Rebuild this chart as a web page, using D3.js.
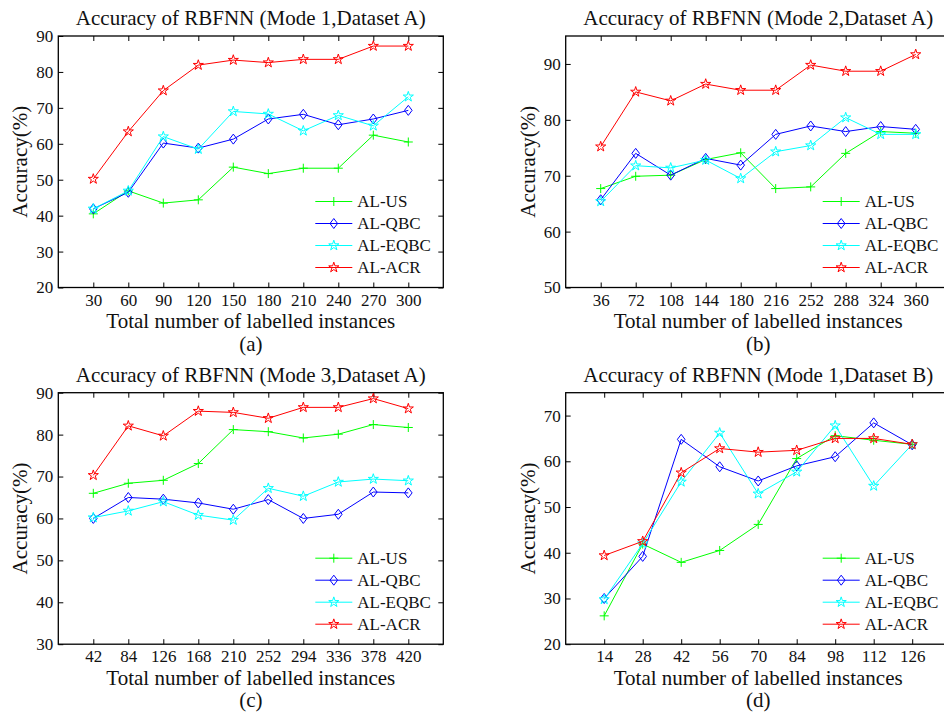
<!DOCTYPE html>
<html>
<head>
  <meta charset="utf-8">
  <title>Accuracy of RBFNN</title>
  <style>
    body { margin: 0; background: #fff; }
    svg text { font-family: 'Liberation Serif', 'DejaVu Serif', serif; }
  </style>
</head>
<body>
  <div id="plot"></div>

  <script src="https://cdn.jsdelivr.net/npm/d3@7"></script>
  <script>

    // legend names
    let seriesNames = ['AL-US', 'AL-QBC', 'AL-EQBC', 'AL-ACR'];

    // (a) Mode 1, Dataset A
    let xA = [30, 60, 90, 120, 150, 180, 210, 240, 270, 300];
    let usA = [40.5, 46.9, 43.5, 44.4, 53.5, 51.7, 53.2, 53.2, 62.4, 60.5];
    let qbcA = [41.9, 46.5, 60.2, 58.8, 61.3, 66.9, 68.2, 65.3, 66.9, 69.3];
    let eqbcA = [41.9, 46.9, 62.0, 58.5, 69.0, 68.3, 63.6, 67.9, 65.0, 73.1];
    let acrA = [50.2, 63.4, 74.8, 81.9, 83.3, 82.6, 83.5, 83.5, 87.2, 87.2];

    // (b) Mode 2, Dataset A
    let xB = [36, 72, 108, 144, 180, 216, 252, 288, 324, 360];
    let usB = [67.7, 69.9, 70.1, 72.9, 74.1, 67.7, 68.0, 74.0, 77.9, 77.6];
    let qbcB = [65.7, 74.0, 70.1, 73.1, 71.9, 77.4, 78.9, 77.9, 78.8, 78.3];
    let eqbcB = [65.4, 71.8, 71.4, 72.8, 69.5, 74.3, 75.4, 80.4, 77.4, 77.4];
    let acrB = [75.2, 85.0, 83.4, 86.4, 85.3, 85.3, 89.8, 88.7, 88.7, 91.7];

    // (c) Mode 3, Dataset A
    let xC = [42, 84, 126, 168, 210, 252, 294, 336, 378, 420];
    let usC = [66.0, 68.4, 69.1, 73.1, 81.2, 80.7, 79.2, 80.1, 82.4, 81.7];
    let qbcC = [60.0, 65.0, 64.6, 63.7, 62.2, 64.5, 60.0, 61.0, 66.3, 66.1];
    let eqbcC = [60.2, 61.8, 64.0, 60.8, 59.6, 67.2, 65.3, 68.7, 69.4, 69.0];
    let acrC = [70.3, 82.1, 79.7, 85.6, 85.3, 83.9, 86.5, 86.5, 88.6, 86.2];

    // (d) Mode 1, Dataset B
    let xD = [14, 28, 42, 56, 70, 84, 98, 112, 126];
    let usD = [26.2, 41.9, 37.9, 40.5, 46.2, 60.6, 65.6, 64.6, 63.7];
    let qbcD = [30.0, 39.2, 64.8, 58.8, 55.7, 59.0, 61.0, 68.4, 63.6];
    let eqbcD = [29.8, 42.0, 55.5, 66.2, 52.9, 57.7, 67.8, 54.6, 63.7];
    let acrD = [39.4, 42.5, 57.5, 62.8, 62.0, 62.4, 65.0, 65.0, 63.7];

    let serif = 'Liberation Serif, DejaVu Serif, serif';

    // g tag 이동
    function translate(x, y) {
      return 'translate(' + x + ',' + y + ')';
    }

    let color = d3.scaleOrdinal()
      .domain(seriesNames)
      .range(['#00ff00', '#0000ff', '#00ffff', '#ff0000']);

    // marker shapes (MATLAB style: + , diamond, pentagram)
    let plusPath = 'M-4.5,0H4.5M0,-4.5V4.5';
    let diamondPath = 'M0,-5L3.8,0L0,5L-3.8,0Z';
    let starPath = d3.symbol(d3.symbolStar, 32)();
    let markers = [plusPath, diamondPath, starPath, starPath];

    let panels = [
      { left: 58.3, top: 36, xs: xA, xMax: 330, yDomain: [20, 90], yTicks: d3.range(20, 91, 10),
        series: [usA, qbcA, eqbcA, acrA], title: 'Accuracy of RBFNN (Mode 1,Dataset A)', caption: '(a)' },
      { left: 565.7, top: 36, xs: xB, xMax: 396, yDomain: [50, 95], yTicks: d3.range(50, 91, 10),
        series: [usB, qbcB, eqbcB, acrB], title: 'Accuracy of RBFNN (Mode 2,Dataset A)', caption: '(b)' },
      { left: 58.3, top: 392.7, xs: xC, xMax: 462, yDomain: [30, 90], yTicks: d3.range(30, 91, 10),
        series: [usC, qbcC, eqbcC, acrC], title: 'Accuracy of RBFNN (Mode 3,Dataset A)', caption: '(c)' },
      { left: 565.7, top: 392.7, xs: xD, xMax: 140, yDomain: [20, 75], yTicks: d3.range(20, 71, 10),
        series: [usD, qbcD, eqbcD, acrD], title: 'Accuracy of RBFNN (Mode 1,Dataset B)', caption: '(d)' }
    ];

    let width = 385;
    let height = 251.5;

    let svg = d3.select('#plot')
      .append('svg')
        .attr('width', 944)
        .attr('height', 715)
        .attr('font-family', serif)
        .style('display', 'block');

    panels.forEach(function (p) {
      let g = svg.append('g').attr('transform', translate(p.left, p.top));

      let x = d3.scaleLinear().domain([0, p.xMax]).range([0, width]);
      let y = d3.scaleLinear().domain(p.yDomain).range([height, 0]);

      // bottom axis with labels, ticks inside
      let bx = g.append('g')
        .attr('transform', translate(0, height))
        .call(d3.axisBottom(x).tickValues(p.xs).tickSizeInner(-5).tickSizeOuter(0).tickPadding(6));
      // left axis
      let ly = g.append('g')
        .call(d3.axisLeft(y).tickValues(p.yTicks).tickSizeInner(-5).tickSizeOuter(0).tickPadding(5));
      // top / right ticks only
      let tx = g.append('g')
        .call(d3.axisTop(x).tickValues(p.xs).tickSizeInner(-5).tickSizeOuter(0).tickFormat(''));
      let ry = g.append('g')
        .attr('transform', translate(width, 0))
        .call(d3.axisRight(y).tickValues(p.yTicks).tickSizeInner(-5).tickSizeOuter(0).tickFormat(''));

      [bx, ly, tx, ry].forEach(function (a) {
        a.attr('font-family', serif).attr('font-size', 17);
        a.select('.domain').remove();
        a.selectAll('line').attr('stroke', '#000').attr('stroke-width', 1);
        a.selectAll('text').attr('fill', '#111');
      });

      // box
      g.append('rect')
        .attr('width', width)
        .attr('height', height)
        .attr('fill', 'none')
        .attr('stroke', '#000')
        .attr('stroke-width', 1.3);

      // lines + markers
      p.series.forEach(function (vals, si) {
        let pts = vals.map((v, i) => [p.xs[i], v]);
        g.append('path')
          .datum(pts)
          .attr('fill', 'none')
          .attr('stroke', color(seriesNames[si]))
          .attr('stroke-width', 1)
          .attr('d', d3.line().x(d => x(d[0])).y(d => y(d[1])));

        g.selectAll('.m' + si)
          .data(pts)
          .enter()
          .append('path')
            .attr('class', 'm' + si)
            .attr('transform', d => translate(x(d[0]), y(d[1])))
            .attr('d', markers[si])
            .attr('fill', 'none')
            .attr('stroke', color(seriesNames[si]))
            .attr('stroke-width', 1);
      });

      // legend (no box)
      let legend = g.selectAll('.legend')
        .data(seriesNames)
        .enter()
        .append('g')
          .attr('transform', (d, i) => translate(width - 128, height - 86 + i * 22));

      legend.append('line')
        .attr('x1', 0)
        .attr('x2', 37)
        .attr('stroke', d => color(d))
        .attr('stroke-width', 1);

      legend.append('path')
        .attr('transform', translate(18.5, 0))
        .attr('d', (d, i) => markers[i])
        .attr('fill', 'none')
        .attr('stroke', d => color(d))
        .attr('stroke-width', 1);

      legend.append('text')
        .attr('x', 42)
        .attr('dy', '0.35em')
        .attr('font-size', 17)
        .attr('fill', '#111')
        .text(d => d);

      // title
      g.append('text')
        .attr('x', width / 2)
        .attr('y', -11)
        .attr('text-anchor', 'middle')
        .attr('font-size', 21)
        .attr('fill', '#111')
        .text(p.title);

      // x label
      g.append('text')
        .attr('x', width / 2)
        .attr('y', height + 40.5)
        .attr('text-anchor', 'middle')
        .attr('font-size', 21)
        .attr('fill', '#111')
        .text('Total number of labelled instances');

      // y label
      g.append('text')
        .attr('transform', translate(-31, height / 2) + ' rotate(-90)')
        .attr('text-anchor', 'middle')
        .attr('font-size', 21)
        .attr('fill', '#111')
        .text('Accuracy(%)');

      // caption
      g.append('text')
        .attr('x', width / 2)
        .attr('y', height + 63)
        .attr('text-anchor', 'middle')
        .attr('font-size', 21)
        .attr('fill', '#111')
        .text(p.caption);
    });

  </script>
</body>
</html>
